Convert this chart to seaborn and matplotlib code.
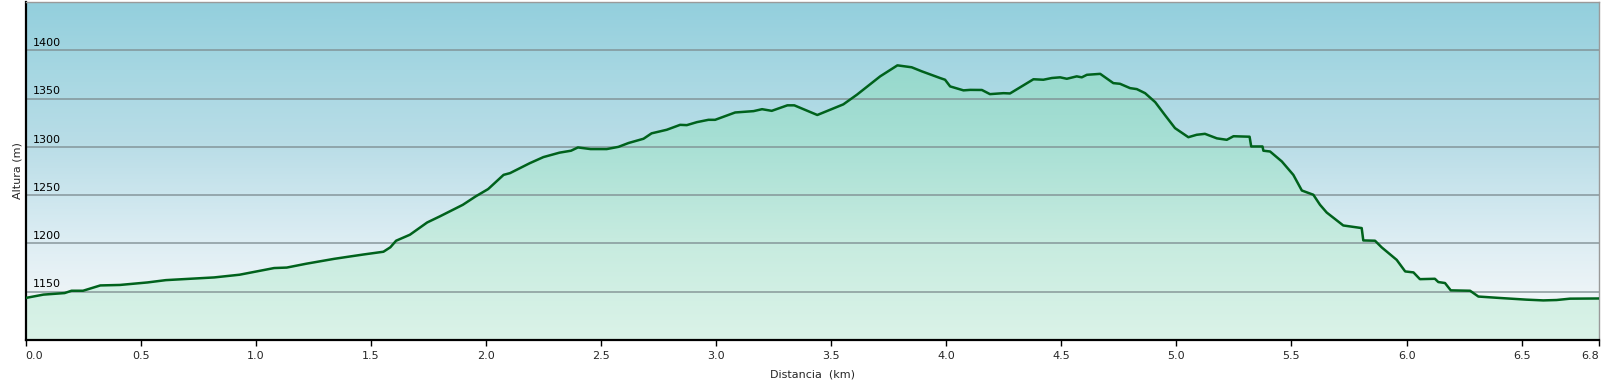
import numpy as np
import pandas as pd
import matplotlib
matplotlib.use("Agg")
import matplotlib.pyplot as plt
import seaborn as sns
from matplotlib.colors import LinearSegmentedColormap
from matplotlib.transforms import blended_transform_factory

# ---- data ----
distance_km = [0.0, 0.078, 0.17, 0.2, 0.25, 0.325, 0.41, 0.53, 0.61, 0.82, 0.93, 1.08, 1.135,
               1.22, 1.34, 1.41, 1.47, 1.555, 1.585, 1.61, 1.67, 1.745, 1.80, 1.90, 1.955, 2.01,
               2.077, 2.105, 2.19, 2.25, 2.32, 2.37, 2.40, 2.455, 2.525, 2.576, 2.62, 2.685,
               2.72, 2.786, 2.844, 2.873, 2.917, 2.967, 2.996, 3.083, 3.163, 3.2, 3.242, 3.31,
               3.34, 3.44, 3.553, 3.612, 3.713, 3.788, 3.85, 3.894, 3.973, 3.995, 4.017, 4.075,
               4.104, 4.155, 4.19, 4.249, 4.277, 4.379, 4.422, 4.459, 4.495, 4.524, 4.567,
               4.589, 4.611, 4.669, 4.726, 4.755, 4.799, 4.828, 4.864, 4.908, 4.95, 4.994,
               5.052, 5.088, 5.124, 5.176, 5.219, 5.248, 5.318, 5.325, 5.374, 5.378, 5.407,
               5.458, 5.508, 5.545, 5.595, 5.624, 5.653, 5.725, 5.805, 5.812, 5.863, 5.892,
               5.957, 5.994, 6.03, 6.058, 6.123, 6.138, 6.167, 6.192, 6.276, 6.312, 6.406,
               6.52, 6.594, 6.652, 6.71, 6.836]
altitude_m = [1143.5, 1147, 1148.6, 1151, 1151, 1156.5, 1157, 1159.6, 1162, 1164.8, 1167.6,
              1174.5, 1175, 1179, 1184, 1186.5, 1188.6, 1191.4, 1196, 1202.8, 1209, 1221.7,
              1228, 1240, 1248.6, 1256.3, 1271, 1272.8, 1283, 1289.4, 1294, 1296, 1299.4,
              1297.7, 1297.7, 1300, 1304, 1308.4, 1314, 1317.7, 1322.8, 1322.5, 1325.6, 1328,
              1328, 1335.6, 1337, 1339, 1337.3, 1343, 1343, 1333, 1344, 1354, 1373, 1384.4,
              1382.4, 1378.2, 1371.3, 1369.5, 1362.6, 1358.5, 1359, 1358.9, 1354.6, 1355.6,
              1355.3, 1370, 1369.5, 1371.3, 1372, 1370.5, 1373, 1372, 1374.6, 1375.6, 1366,
              1365.3, 1360.8, 1359.8, 1355.6, 1346.3, 1333, 1319.4, 1310, 1312.5, 1313.5,
              1308.8, 1307.3, 1311, 1310.5, 1300.4, 1300.4, 1296, 1295.2, 1284.9, 1271,
              1254.8, 1250.4, 1240, 1232, 1218.6, 1215.9, 1203.1, 1202.8, 1195.9, 1183, 1171,
              1170, 1163, 1163.4, 1160, 1159, 1151.4, 1151, 1145, 1143.5, 1141.8, 1141,
              1141.4, 1142.8, 1143]
x_ticks = [0.0, 0.5, 1.0, 1.5, 2.0, 2.5, 3.0, 3.5, 4.0, 4.5, 5.0, 5.5, 6.0, 6.5, 6.836]
x_tick_labels = ["0.0", "0.5", "1.0", "1.5", "2.0", "2.5", "3.0", "3.5", "4.0", "4.5",
                 "5.0", "5.5", "6.0", "6.5", "6.8"]
y_ticks = [1150, 1200, 1250, 1300, 1350, 1400]
y_tick_labels = ["1150", "1200", "1250", "1300", "1350", "1400"]

df = pd.DataFrame({"Distancia": distance_km, "Altura": altitude_m})

sns.set_style("white")
plt.rcParams["font.family"] = ["DejaVu Sans"]

W, H = 1601, 386
fig = plt.figure(figsize=(W / 100, H / 100), dpi=100)
ax = fig.add_axes([25.5 / W, (H - 340) / H, 1573.5 / W, 338 / H])

xmin, xmax = 0.0, 6.836
ymin, ymax = 1100, 1450
ax.set_xlim(xmin, xmax)
ax.set_ylim(ymin, ymax)

# background gradient
bg_cmap = LinearSegmentedColormap.from_list(
    "bg", [(0.0, "#f1f6f8"), (0.14, "#edf4f7"), (0.3, "#dcedf3"),
           (0.58, "#b9dde7"), (0.8, "#a6d7e2"), (1.0, "#93cfdd")])
grad = np.linspace(0, 1, 256).reshape(-1, 1)
ax.imshow(grad, cmap=bg_cmap, origin="lower", aspect="auto",
          extent=[xmin, xmax, ymin, ymax], zorder=0, interpolation="bicubic")

# fill under the profile with a green gradient
poly = ax.fill_between(df["Distancia"], df["Altura"], ymin, facecolor="none",
                       edgecolor="none", zorder=1)
fill_cmap = LinearSegmentedColormap.from_list(
    "fill", [(0.0, "#dbf3e8"), (0.3, "#c6ebdf"), (0.6, "#a6dfd4"), (1.0, "#88d3c6")])
im = ax.imshow(grad, cmap=fill_cmap, origin="lower", aspect="auto",
               extent=[xmin, xmax, ymin, ymax], zorder=1, interpolation="bicubic")
im.set_clip_path(poly.get_paths()[0], transform=ax.transData)

# grid lines
for yv in y_ticks:
    ax.axhline(yv, color="#7d8c90", lw=1.3, alpha=0.75, zorder=2)

# profile line
sns.lineplot(data=df, x="Distancia", y="Altura", ax=ax, color="#00621c",
             lw=1.8, zorder=3, estimator=None, sort=False)

# y tick labels inside the plot
trans = blended_transform_factory(ax.transAxes, ax.transData)
for yv, lab in zip(y_ticks, y_tick_labels):
    ax.text(0.0048, yv + 4.5, lab, transform=trans, ha="left", va="baseline",
            fontsize=8, color="black", zorder=4)
ax.set_yticks([])

# x ticks
ax.set_xticks(x_ticks)
ax.set_xticklabels(x_tick_labels, fontsize=8)
for i, t in enumerate(ax.get_xticklabels()):
    if i == 0:
        t.set_ha("left")
    elif i == len(x_tick_labels) - 1:
        t.set_ha("right")
ax.tick_params(axis="x", direction="out", length=4, width=1, color="black", pad=4,
               bottom=True)

ax.set_xlabel("Distancia  (km)", fontsize=8, labelpad=6)
ax.set_ylabel("Altura (m)", fontsize=8)
ax.yaxis.set_label_coords(-0.002, 0.5)

for side in ["left", "bottom"]:
    ax.spines[side].set_color("black")
    ax.spines[side].set_linewidth(1.6)
for side in ["top", "right"]:
    ax.spines[side].set_color("#9a9a9a")
    ax.spines[side].set_linewidth(1.0)
    ax.spines[side].set_visible(True)

fig.savefig("out.png", dpi=100, facecolor="white")
